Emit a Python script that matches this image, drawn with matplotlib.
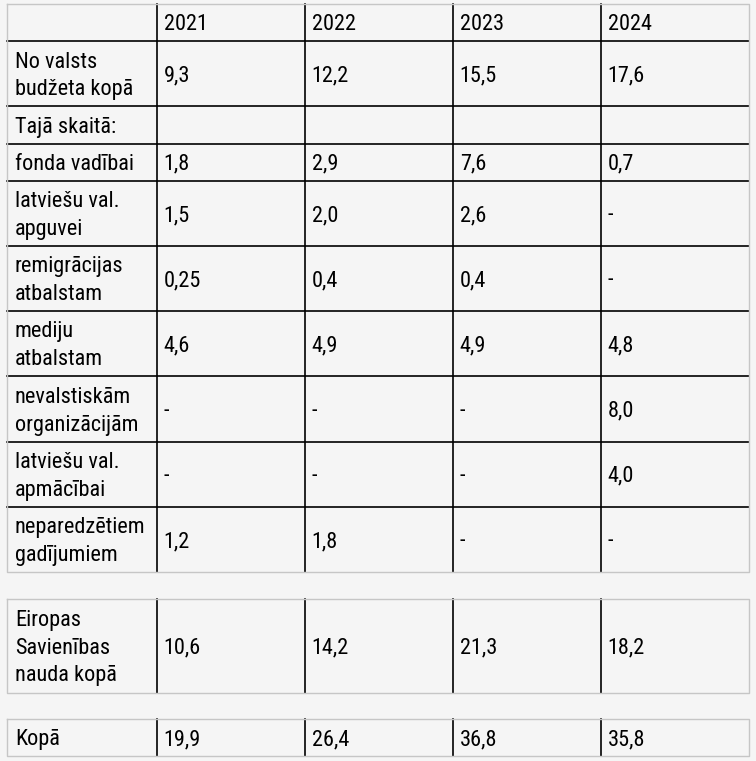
import matplotlib.pyplot as plt

plt.rcParams['font.family'] = ['Roboto Condensed', 'Liberation Sans Narrow', 'Roboto', 'DejaVu Sans']

years = ["2021", "2022", "2023", "2024"]

# main table: row labels and values per year
labels = ["No valsts\nbudžeta kopā", "Tajā skaitā:", "fonda vadībai",
          "latviešu val.\napguvei", "remigrācijas\natbalstam", "mediju\natbalstam",
          "nevalstiskām\norganizācijām", "latviešu val.\napmācībai",
          "neparedzētiem\ngadījumiem"]
v2021 = ["9,3", "", "1,8", "1,5", "0,25", "4,6", "-", "-", "1,2"]
v2022 = ["12,2", "", "2,9", "2,0", "0,4", "4,9", "-", "-", "1,8"]
v2023 = ["15,5", "", "7,6", "2,6", "0,4", "4,9", "-", "-", "-"]
v2024 = ["17,6", "", "0,7", "-", "-", "4,8", "8,0", "4,0", "-"]

eu_label = "Eiropas\nSavienības\nnauda kopā"
eu_values = ["10,6", "14,2", "21,3", "18,2"]

total_label = "Kopā"
total_values = ["19,9", "26,4", "36,8", "35,8"]

W, H = 756, 761
BG = "#f5f5f5"
GREY = "#c6c6c6"
INK = "#000000"
col_edges = [7, 156.7, 304.7, 452.7, 600.7, 749]
LINE = 27.8
FS = 22.3 * 72 / 100  # ~22 px at dpi 100


def row_height(n):
    return 9.2 + 28 * n


fig = plt.figure(figsize=(W / 100, H / 100), dpi=100, facecolor=BG)
ax = fig.add_axes([0, 0, 1, 1])
ax.set_xlim(0, W)
ax.set_ylim(H, 0)
ax.axis("off")
ax.set_facecolor(BG)


def draw_cell_text(text, col, top, bottom):
    lines = text.split("\n") if text else []
    mid = (top + bottom) / 2
    x = col_edges[col] + (8 if col == 0 else 7)
    for i, ln in enumerate(lines):
        y = mid + 7.6 + (i - (len(lines) - 1) / 2) * LINE
        ax.text(x, y, ln, fontsize=FS, color=INK, ha="left", va="baseline")


def draw_table(rows, top):
    # rows: list of lists of cell strings
    edges = [top]
    for r in rows:
        n = max(len(c.split("\n")) for c in r)
        edges.append(edges[-1] + row_height(n))
    for r, (t, b) in zip(rows, zip(edges[:-1], edges[1:])):
        for c, txt in enumerate(r):
            draw_cell_text(txt, c, t, b)
    for y in edges[1:-1]:
        ax.plot([col_edges[0], col_edges[-1]], [y, y], color="black", lw=1.2, zorder=2)
    for x in col_edges[1:-1]:
        ax.plot([x, x], [edges[0], edges[-1]], color="black", lw=1.2, zorder=2)
    ax.plot([col_edges[0], col_edges[-1], col_edges[-1], col_edges[0], col_edges[0]],
            [edges[0], edges[0], edges[-1], edges[-1], edges[0]],
            color=GREY, lw=1.0, zorder=3)
    return edges[-1]


main_rows = [[""] + years]
for i, lab in enumerate(labels):
    main_rows.append([lab, v2021[i], v2022[i], v2023[i], v2024[i]])

bottom = draw_table(main_rows, 4)
bottom = draw_table([[eu_label] + eu_values], bottom + 27.3)
draw_table([[total_label] + total_values], bottom + 26.7)

fig.savefig("out.png", dpi=100, facecolor=BG)
